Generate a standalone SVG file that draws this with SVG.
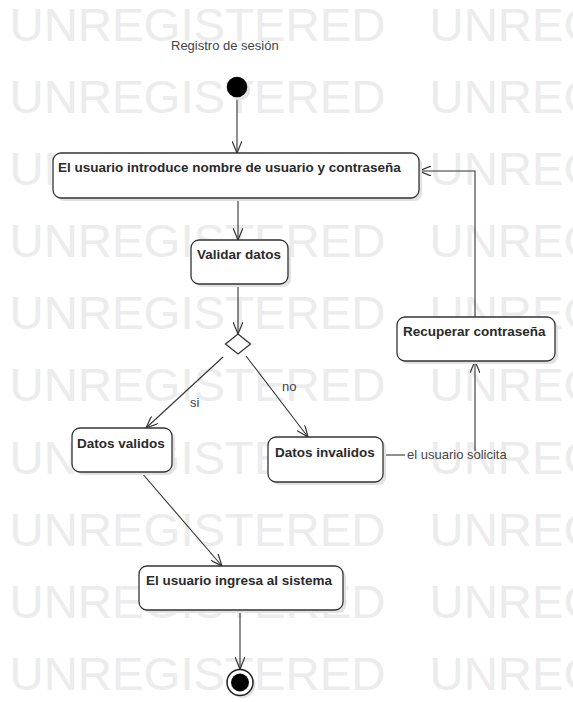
<svg xmlns="http://www.w3.org/2000/svg" width="573" height="702" viewBox="0 0 573 702">
<style>
.wm{font-family:"Liberation Sans",Arial,sans-serif;font-size:46px;fill:#ececec}
.box{fill:#fff;stroke:#333;stroke-width:1.3}
.shadow{fill:#e2e2e2}
.lbl{font-family:"Liberation Sans",Arial,sans-serif;font-size:13.5px;font-weight:bold;fill:#2a2a2a}
.txt{font-family:"Liberation Sans",Arial,sans-serif;font-size:13px;fill:#444}
.edge{fill:none;stroke:#333;stroke-width:1.1}
</style>
<defs>
<marker id="arr" viewBox="0 0 12 10" refX="12" refY="5" markerWidth="12" markerHeight="10" markerUnits="userSpaceOnUse" orient="auto">
<path d="M0,0 L12,5 L0,10" fill="none" stroke="#333" stroke-width="1.2"/>
</marker>
</defs>
<rect width="573" height="702" fill="#fff"/>
<g id="watermark">
<text class="wm" x="9.5" y="41" textLength="376" lengthAdjust="spacingAndGlyphs">UNREGISTERED</text>
<text class="wm" x="429.5" y="41" textLength="376" lengthAdjust="spacingAndGlyphs">UNREGISTERED</text>
<text class="wm" x="9.5" y="113" textLength="376" lengthAdjust="spacingAndGlyphs">UNREGISTERED</text>
<text class="wm" x="429.5" y="113" textLength="376" lengthAdjust="spacingAndGlyphs">UNREGISTERED</text>
<text class="wm" x="9.5" y="185" textLength="376" lengthAdjust="spacingAndGlyphs">UNREGISTERED</text>
<text class="wm" x="429.5" y="185" textLength="376" lengthAdjust="spacingAndGlyphs">UNREGISTERED</text>
<text class="wm" x="9.5" y="257" textLength="376" lengthAdjust="spacingAndGlyphs">UNREGISTERED</text>
<text class="wm" x="429.5" y="257" textLength="376" lengthAdjust="spacingAndGlyphs">UNREGISTERED</text>
<text class="wm" x="9.5" y="329" textLength="376" lengthAdjust="spacingAndGlyphs">UNREGISTERED</text>
<text class="wm" x="429.5" y="329" textLength="376" lengthAdjust="spacingAndGlyphs">UNREGISTERED</text>
<text class="wm" x="9.5" y="401" textLength="376" lengthAdjust="spacingAndGlyphs">UNREGISTERED</text>
<text class="wm" x="429.5" y="401" textLength="376" lengthAdjust="spacingAndGlyphs">UNREGISTERED</text>
<text class="wm" x="9.5" y="474" textLength="376" lengthAdjust="spacingAndGlyphs">UNREGISTERED</text>
<text class="wm" x="429.5" y="474" textLength="376" lengthAdjust="spacingAndGlyphs">UNREGISTERED</text>
<text class="wm" x="9.5" y="546" textLength="376" lengthAdjust="spacingAndGlyphs">UNREGISTERED</text>
<text class="wm" x="429.5" y="546" textLength="376" lengthAdjust="spacingAndGlyphs">UNREGISTERED</text>
<text class="wm" x="9.5" y="618" textLength="376" lengthAdjust="spacingAndGlyphs">UNREGISTERED</text>
<text class="wm" x="429.5" y="618" textLength="376" lengthAdjust="spacingAndGlyphs">UNREGISTERED</text>
<text class="wm" x="9.5" y="690" textLength="376" lengthAdjust="spacingAndGlyphs">UNREGISTERED</text>
<text class="wm" x="429.5" y="690" textLength="376" lengthAdjust="spacingAndGlyphs">UNREGISTERED</text>
</g>
<text id="title" class="txt" x="171" y="50">Registro de sesión</text>
<g id="connectors">
<line class="edge" x1="237" y1="97" x2="237" y2="153" marker-end="url(#arr)"/>
<line class="edge" x1="238" y1="198" x2="238" y2="240" marker-end="url(#arr)"/>
<line class="edge" x1="238" y1="284" x2="238" y2="334" marker-end="url(#arr)"/>
<line class="edge" x1="223" y1="357" x2="146" y2="428" marker-end="url(#arr)"/>
<line class="edge" x1="246" y1="356" x2="308" y2="437" marker-end="url(#arr)"/>
<line class="edge" x1="141" y1="472" x2="222" y2="566" marker-end="url(#arr)"/>
<line class="edge" x1="240" y1="610" x2="240" y2="669" marker-end="url(#arr)"/>
<line class="edge" x1="383" y1="455" x2="405" y2="455"/>
<line class="edge" x1="475" y1="451" x2="475" y2="361" marker-end="url(#arr)"/>
<polyline class="edge" points="475,317 475,171 419,171" marker-end="url(#arr)"/>
<text class="txt" x="190" y="407">si</text>
<text class="txt" x="282" y="391">no</text>
<text class="txt" x="407" y="459">el usuario solicita</text>
</g>
<g id="initial">
<circle cx="240" cy="90" r="10.3" class="shadow"/>
<circle cx="237" cy="87" r="10.3" fill="#000"/>
</g>
<g id="introduce">
<rect class="shadow" x="56" y="156" width="366" height="45" rx="8"/>
<rect class="box" x="53" y="153" width="366" height="45" rx="8"/>
<text class="lbl" x="58" y="172">El usuario introduce nombre de usuario y contraseña</text>
</g>
<g id="validar">
<rect class="shadow" x="194" y="243" width="97" height="44" rx="8"/>
<rect class="box" x="191" y="240" width="97" height="44" rx="8"/>
<text class="lbl" x="197" y="259">Validar datos</text>
</g>
<g id="decision">
<polygon points="238,334 250.5,344 238,354 225.5,344" class="box"/>
</g>
<g id="validos">
<rect class="shadow" x="75" y="431" width="100" height="44" rx="8"/>
<rect class="box" x="72" y="428" width="100" height="44" rx="8"/>
<text class="lbl" x="77" y="448">Datos validos</text>
</g>
<g id="invalidos">
<rect class="shadow" x="271" y="440" width="115" height="45" rx="8"/>
<rect class="box" x="268" y="437" width="115" height="45" rx="8"/>
<text class="lbl" x="275" y="457">Datos invalidos</text>
</g>
<g id="recuperar">
<rect class="shadow" x="400" y="320" width="158" height="44" rx="8"/>
<rect class="box" x="397" y="317" width="158" height="44" rx="8"/>
<text class="lbl" x="403" y="336">Recuperar contraseña</text>
</g>
<g id="ingresa">
<rect class="shadow" x="142" y="569" width="204" height="44" rx="8"/>
<rect class="box" x="139" y="566" width="204" height="44" rx="8"/>
<text class="lbl" x="146" y="585">El usuario ingresa al sistema</text>
</g>
<g id="final">
<circle cx="242.5" cy="685" r="13" class="shadow"/>
<circle cx="240" cy="682.5" r="13" fill="#fff" stroke="#222" stroke-width="1.5"/>
<circle cx="240" cy="682.5" r="9" fill="#000"/>
</g>
</svg>
